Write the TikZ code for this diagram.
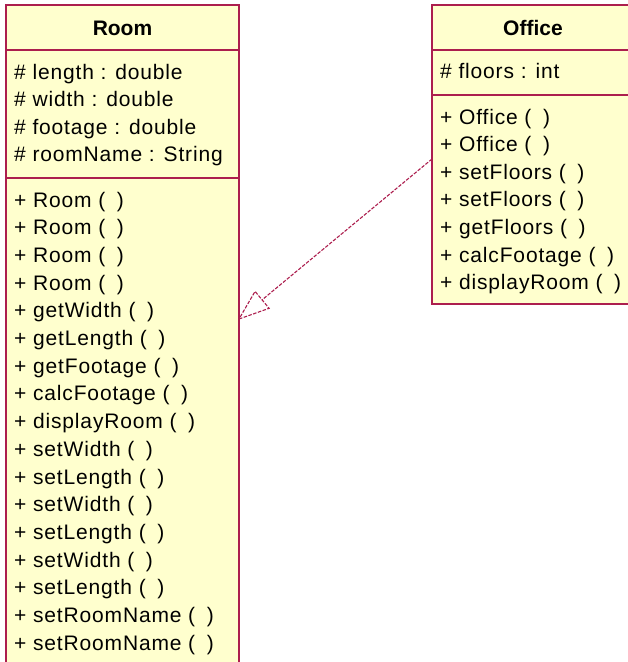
\documentclass[tikz,border=0pt]{standalone}
\usepackage{fontspec}
\setmainfont{Liberation Sans}
\newfontfamily\memberfont[LetterSpace=4]{Liberation Sans}
\usetikzlibrary{calc}
\definecolor{umlborder}{RGB}{172,30,78}
\definecolor{umlfill}{RGB}{255,255,206}
\newcommand{\parens}{(\hspace{0.55em})}
\tikzset{
  x=1pt, y=-1pt,
  classbox/.style={draw=umlborder, fill=umlfill, line width=1.2pt},
  divider/.style={draw=umlborder, line width=1.2pt},
  classname/.style={font=\fontsize{21}{21}\selectfont\bfseries, anchor=base, inner sep=0pt},
  member/.style={font=\memberfont\fontsize{21}{21}\selectfont, anchor=base west, inner sep=0pt},
  realize/.style={draw=umlborder, line width=1.1pt, dash pattern=on 3.5pt off 1.5pt}
}
\begin{document}
\begin{tikzpicture}
\useasboundingbox (0,0) rectangle (628,662);
\clip (0,0) rectangle (628,662);

% Room class
\draw[classbox] (6,5) rectangle (239,700);
\draw[divider] (6,50) -- (239,50);
\draw[divider] (6,178) -- (239,178);
\node[classname] (roomname) at (122.5,35) {Room};
\foreach \t [count=\i from 0] in {{\# length : double},{\# width : double},{\# footage : double},{\# roomName : String}}
  \node[member] (room-a\i) at (14,{79+27.6*\i}) {\t};
\foreach \t [count=\i from 0] in {Room,Room,Room,Room,getWidth,getLength,getFootage,calcFootage,displayRoom,setWidth,setLength,setWidth,setLength,setWidth,setLength,setRoomName,setRoomName}
  \node[member] (room-m\i) at (14,{207+27.7*\i}) {+ \t\ \parens};

% Office class
\draw[classbox] (432,5) rectangle (640,304);
\draw[divider] (432,50) -- (640,50);
\draw[divider] (432,95) -- (640,95);
\node[classname] (officename) at (533,35) {Office};
\node[member] (office-a0) at (440,78) {\# floors : int};
\foreach \t [count=\i from 0] in {Office,Office,setFloors,setFloors,getFloors,calcFootage,displayRoom}
  \node[member] (office-m\i) at (440,{124+27.6*\i}) {+ \t\ \parens};

% Realization arrow from Office to Room
\coordinate (src) at (432,159);
\coordinate (tip) at (239,319);
\coordinate (base) at ($(tip)!30pt!(src)$);
\coordinate (c1) at ($(base)!11pt!90:(tip)$);
\coordinate (c2) at ($(base)!11pt!-90:(tip)$);
\draw[realize] (src) -- (base);
\draw[realize, line join=miter] (tip) -- (c1) -- (c2) -- cycle;
\end{tikzpicture}
\end{document}
